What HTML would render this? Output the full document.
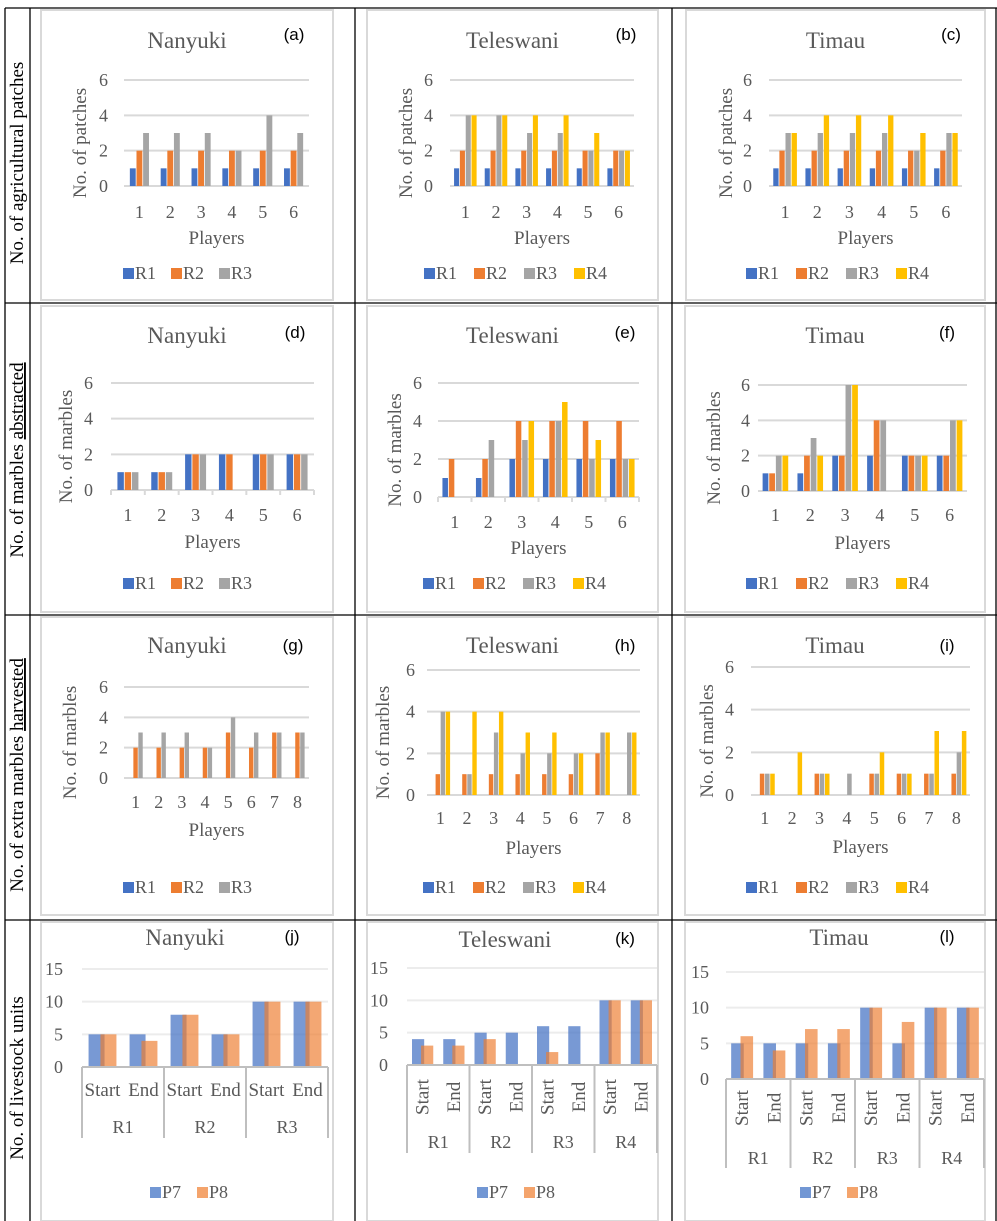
<!DOCTYPE html>
<html><head><meta charset="utf-8"><style>
html,body{margin:0;padding:0;background:#fff;}
svg{display:block;font-family:"Liberation Serif",serif;}
</style></head><body>
<svg id="fig" width="997" height="1221" viewBox="0 0 997 1221" xmlns="http://www.w3.org/2000/svg"></svg>
<script>
// ---------- data ----------
const players6 = [1,2,3,4,5,6];
const players8 = [1,2,3,4,5,6,7,8];
const ticks6 = [0,2,4,6];
const ticks15 = [0,5,10,15];
const seriesNames4 = ["R1","R2","R3","R4"];
// (a) Nanyuki patches
const aR1 = [1,1,1,1,1,1];
const aR2 = [2,2,2,2,2,2];
const aR3 = [3,3,3,2,4,3];
// (b) Teleswani patches
const bR1 = [1,1,1,1,1,1];
const bR2 = [2,2,2,2,2,2];
const bR3 = [4,4,3,3,2,2];
const bR4 = [4,4,4,4,3,2];
// (c) Timau patches
const cR1 = [1,1,1,1,1,1];
const cR2 = [2,2,2,2,2,2];
const cR3 = [3,3,3,3,2,3];
const cR4 = [3,4,4,4,3,3];
// (d) Nanyuki marbles abstracted
const dR1 = [1,1,2,2,2,2];
const dR2 = [1,1,2,2,2,2];
const dR3 = [1,1,2,0,2,2];
// (e) Teleswani marbles abstracted
const eR1 = [1,1,2,2,2,2];
const eR2 = [2,2,4,4,4,4];
const eR3 = [0,3,3,4,2,2];
const eR4 = [0,0,4,5,3,2];
// (f) Timau marbles abstracted
const fR1 = [1,1,2,2,2,2];
const fR2 = [1,2,2,4,2,2];
const fR3 = [2,3,6,4,2,4];
const fR4 = [2,2,6,0,2,4];
// (g) Nanyuki extra marbles
const gR1 = [0,0,0,0,0,0,0,0];
const gR2 = [2,2,2,2,3,2,3,3];
const gR3 = [3,3,3,2,4,3,3,3];
// (h) Teleswani extra marbles
const hR1 = [0,0,0,0,0,0,0,0];
const hR2 = [1,1,1,1,1,1,2,0];
const hR3 = [4,1,3,2,2,2,3,3];
const hR4 = [4,4,4,3,3,2,3,3];
// (i) Timau extra marbles
const iR1 = [0,0,0,0,0,0,0,0];
const iR2 = [1,0,1,0,1,1,1,1];
const iR3 = [1,0,1,1,1,1,1,2];
const iR4 = [1,2,1,0,2,1,3,3];
// (j) Nanyuki livestock
const jGroups = ["R1","R2","R3"];
const jP7 = [5,5,8,5,10,10];
const jP8 = [5,4,8,5,10,10];
// (k) Teleswani livestock
const kGroups = ["R1","R2","R3","R4"];
const kP7 = [4,4,5,5,6,6,10,10];
const kP8 = [3,3,4,0,2,0,10,10];
// (l) Timau livestock
const lGroups = ["R1","R2","R3","R4"];
const lP7 = [5,5,5,5,10,5,10,10];
const lP8 = [6,4,7,7,10,8,10,10];
const stageNames = ["Start","End"];

const COLORS = ["#4472c4","#ed7d31","#a5a5a5","#ffc000"];
const TXT = "#595959";
const NS = "http://www.w3.org/2000/svg";
const svg = document.getElementById("fig");

function mk(tag, attrs, parent, text){
  const e = document.createElementNS(NS, tag);
  for (const k in attrs) e.setAttribute(k, attrs[k]);
  if (text !== undefined) e.textContent = text;
  (parent||svg).appendChild(e);
  return e;
}

// ---------- table grid ----------
const grid = mk("g", {});


[[5,8,5,1221],[30,8,30,1221],[355,8,355,1221],[672,8,672,1221],[996,8,996,1221],
 [5,8,997,8],[5,303,997,303],[5,615,997,615],[5,920,997,920]].forEach(l=>{
  mk("line",{x1:l[0],y1:l[1],x2:l[2],y2:l[3],stroke:"#000","stroke-width":1.3},grid);
});

// ---------- row labels ----------
function rowLabel(name, cy, plain, under){
  const t = mk("text",{x:0,y:0,transform:`translate(23,${cy}) rotate(-90)`,"text-anchor":"middle","font-size":19,fill:"#000"});
  
  
  mk("tspan",{},t,plain);
  if (under){ mk("tspan",{"text-decoration":"underline"},t,under); }
}
rowLabel("row-label-patches",163,"No. of agricultural patches");
rowLabel("row-label-abstracted",460,"No. of marbles ","abstracted");
rowLabel("row-label-harvested",775,"No. of extra marbles ","harvested");
rowLabel("row-label-livestock",1078,"No. of livestock units");

// ---------- bar panel (rows 1-3) ----------
function barPanel(p, cats, ticks, series){
  const g = mk("g",{});
  
  
  const fr = mk("rect",{x:p.fx0,y:p.fy0,width:p.fx1-p.fx0,height:p.fy1-p.fy0,fill:"#fff",stroke:"#d9d9d9","stroke-width":2},g);
  
  
  const max = ticks[ticks.length-1];
  const yS = v => p.y0 - v/max*(p.y0-p.yTop);
  const n = cats.length, gw = (p.x1-p.x0)/n;
  const xC = i => p.x0 + gw*(i+0.5);
  ticks.forEach(t=>{
    const gl = mk("line",{x1:p.x0,x2:p.x1,y1:yS(t),y2:yS(t),stroke:"#d9d9d9","stroke-width":2},g);
    
    
    const tl = mk("text",{x:p.tickR,y:yS(t)+6,"text-anchor":"end","font-size":18,fill:TXT},g,String(t));
    
    
  });
  if (p.tickMarks){
    for (let i=0;i<=n;i++){
      const tm = mk("line",{x1:p.x0+gw*i,x2:p.x0+gw*i,y1:p.y0,y2:p.y0+5,stroke:"#d9d9d9","stroke-width":2},g);
      
      
    }
  }
  const ns = series.length;
  const bw = gw*(ns===3?0.19:0.165), gap = gw*0.025;
  const span = ns*bw+(ns-1)*gap;
  series.forEach((s,si)=>{
    s.forEach((v,i)=>{
      if (v<=0) return;
      const bx = xC(i)-span/2+si*(bw+gap);
      const r = mk("rect",{x:bx,y:yS(v),width:bw,height:yS(0)-yS(v),fill:COLORS[si]},g);
      
      
    });
  });
  cats.forEach((c,i)=>{
    const cl = mk("text",{x:xC(i),y:p.catY+6,"text-anchor":"middle","font-size":18,fill:TXT},g,String(c));
    
    
  });
  const title = mk("text",{x:(p.fx0+p.fx1)/2,y:p.titleY,"text-anchor":"middle","font-size":23,fill:TXT},g,p.title);
  
  
  const tag = mk("text",{x:p.tagX,y:p.tagY,"text-anchor":"middle","font-size":17,fill:"#000","font-family":"Liberation Sans, sans-serif"},g,p.tag);
  
  
  const yt = mk("text",{x:0,y:0,transform:`translate(${p.ytX+6},${(p.yTop+p.y0)/2+10}) rotate(-90)`,"text-anchor":"middle","font-size":19,fill:TXT},g,p.ytitle);
  
  
  const xt = mk("text",{x:(p.x0+p.x1)/2,y:p.plY+6,"text-anchor":"middle","font-size":19,fill:TXT},g,"Players");
  
  
  const sp = ns===3?48:50;
  series.forEach((s,si)=>{
    const lg = mk("g",{},g);
    
    
    mk("rect",{x:p.legX+si*sp,y:p.legY-5,width:11,height:11,fill:COLORS[si]},lg);
    mk("text",{x:p.legX+si*sp+12,y:p.legY+6,"font-size":18,fill:TXT},lg,seriesNames4[si]);
  });
}

barPanel({name:"chart-a-nanyuki-patches",fx0:41,fx1:333,fy0:10,fy1:300,x0:124,x1:309,yTop:80,y0:186,tickR:108,catY:212,plY:238,legY:273,legX:123,title:"Nanyuki",titleY:48,tag:"(a)",tagX:294,tagY:40,ytitle:"No. of patches",ytX:80},players6,ticks6,[aR1,aR2,aR3]);
barPanel({name:"chart-b-teleswani-patches",fx0:367,fx1:658,fy0:10,fy1:300,x0:450,x1:634,yTop:80,y0:186,tickR:433,catY:212,plY:238,legY:273,legX:424,title:"Teleswani",titleY:48,tag:"(b)",tagX:626,tagY:40,ytitle:"No. of patches",ytX:406},players6,ticks6,[bR1,bR2,bR3,bR4]);
barPanel({name:"chart-c-timau-patches",fx0:686,fx1:985,fy0:10,fy1:300,x0:769,x1:962,yTop:80,y0:186,tickR:752,catY:212,plY:238,legY:273,legX:746,title:"Timau",titleY:48,tag:"(c)",tagX:951,tagY:40,ytitle:"No. of patches",ytX:726},players6,ticks6,[cR1,cR2,cR3,cR4]);

barPanel({name:"chart-d-nanyuki-abstracted",fx0:41,fx1:333,fy0:306,fy1:612,x0:111,x1:314,yTop:383,y0:490,tickR:93,catY:515,plY:542,legY:583,legX:123,title:"Nanyuki",titleY:343,tag:"(d)",tagX:295,tagY:338,ytitle:"No. of marbles",ytX:66,tickMarks:true},players6,ticks6,[dR1,dR2,dR3]);
barPanel({name:"chart-e-teleswani-abstracted",fx0:367,fx1:658,fy0:306,fy1:612,x0:438,x1:639,yTop:383,y0:497,tickR:422,catY:522,plY:548,legY:583,legX:423,title:"Teleswani",titleY:343,tag:"(e)",tagX:625,tagY:338,ytitle:"No. of marbles",ytX:395,tickMarks:true},players6,ticks6,[eR1,eR2,eR3,eR4]);
barPanel({name:"chart-f-timau-abstracted",fx0:685,fx1:985,fy0:306,fy1:612,x0:758,x1:967,yTop:385,y0:491,tickR:750,catY:515,plY:543,legY:583,legX:746,title:"Timau",titleY:343,tag:"(f)",tagX:947,tagY:338,ytitle:"No. of marbles",ytX:714},players6,ticks6,[fR1,fR2,fR3,fR4]);

barPanel({name:"chart-g-nanyuki-harvested",fx0:41,fx1:333,fy0:617,fy1:915,x0:124,x1:309,yTop:687,y0:778,tickR:108,catY:802,plY:830,legY:887,legX:123,title:"Nanyuki",titleY:653,tag:"(g)",tagX:293,tagY:651,ytitle:"No. of marbles",ytX:70},players8,ticks6,[gR1,gR2,gR3]);
barPanel({name:"chart-h-teleswani-harvested",fx0:367,fx1:658,fy0:617,fy1:915,x0:427,x1:640,yTop:670,y0:795,tickR:415,catY:818,plY:848,legY:887,legX:423,title:"Teleswani",titleY:653,tag:"(h)",tagX:625,tagY:651,ytitle:"No. of marbles",ytX:383},players8,ticks6,[hR1,hR2,hR3,hR4]);
barPanel({name:"chart-i-timau-harvested",fx0:685,fx1:985,fy0:617,fy1:915,x0:751,x1:970,yTop:667,y0:795,tickR:734,catY:818,plY:847,legY:887,legX:746,title:"Timau",titleY:653,tag:"(i)",tagX:947,tagY:651,ytitle:"No. of marbles",ytX:707},players8,ticks6,[iR1,iR2,iR3,iR4]);

// ---------- livestock panels (row 4) ----------
function stockPanel(p, groups, p7, p8){
  const g = mk("g",{});
  
  
  const fr = mk("rect",{x:p.fx0,y:p.fy0,width:p.fx1-p.fx0,height:p.fy1-p.fy0,fill:"#fff",stroke:"#d9d9d9","stroke-width":2},g);
  
  
  const max = ticks15[ticks15.length-1];
  const yS = v => p.y0 - v/max*(p.y0-p.yTop);
  const n = groups.length*stageNames.length, gw = (p.x1-p.x0)/n;
  const xC = i => p.x0 + gw*(i+0.5);
  ticks15.forEach(t=>{
    if (t>0){
      const gl = mk("line",{x1:p.x0,x2:p.x1,y1:yS(t),y2:yS(t),stroke:"#ececec","stroke-width":2},g);
      
      
    }
    const tl = mk("text",{x:p.tickR,y:yS(t)+6,"text-anchor":"end","font-size":18,fill:TXT},g,String(t));
    
    
  });
  const bw = gw*0.39, ov = gw*0.1;
  p7.forEach((v,i)=>{
    const r = mk("rect",{x:xC(i)-bw+ov/2,y:yS(v),width:bw,height:yS(0)-yS(v),fill:"#4472c4","fill-opacity":0.72},g);
    
    
  });
  p8.forEach((v,i)=>{
    if (v<=0) return;
    const r = mk("rect",{x:xC(i)-ov/2,y:yS(v),width:bw,height:yS(0)-yS(v),fill:"#ed7d31","fill-opacity":0.68},g);
    
    
  });
  const ax = mk("line",{x1:p.x0,x2:p.x1,y1:p.y0,y2:p.y0,stroke:"#bfbfbf","stroke-width":2},g);
  
  
  for (let k=0;k<=groups.length;k++){
    const xx = p.x0 + gw*2*k;
    const dv = mk("line",{x1:xx,x2:xx,y1:p.y0,y2:p.divB,stroke:"#bfbfbf","stroke-width":2},g);
    
    
  }
  for (let i=0;i<n;i++){
    const lab = stageNames[i%2];
    let t;
    if (p.rotate){
      t = mk("text",{x:0,y:0,transform:`translate(${xC(i)+6},${p.stageY}) rotate(-90)`,"text-anchor":"middle","font-size":19,fill:TXT},g,lab);
    } else {
      t = mk("text",{x:xC(i),y:p.stageY+6,"text-anchor":"middle","font-size":19,fill:TXT},g,lab);
    }
    
    
  }
  groups.forEach((gr,k)=>{
    const t = mk("text",{x:p.x0+gw*(2*k+1),y:p.groupY+6,"text-anchor":"middle","font-size":18,fill:TXT},g,gr);
    
    
  });
  const title = mk("text",{x:p.titleX,y:p.titleY,"text-anchor":"middle","font-size":23,fill:TXT},g,p.title);
  
  
  const tag = mk("text",{x:p.tagX,y:p.titleY-3,"text-anchor":"middle","font-size":17,fill:"#000","font-family":"Liberation Sans, sans-serif"},g,p.tag);
  
  
  ["P7","P8"].forEach((nm,si)=>{
    const lg = mk("g",{},g);
    
    
    mk("rect",{x:p.legX+si*47,y:p.legY-5,width:11,height:11,fill:si?"#f4a46c":"#7297d4"},lg);
    mk("text",{x:p.legX+si*47+12,y:p.legY+6,"font-size":18,fill:TXT},lg,nm);
  });
}
stockPanel({name:"chart-j-nanyuki-livestock",fx0:41,fx1:333,fy0:922,fy1:1221,x0:82,x1:328,yTop:969,y0:1067,tickR:63,divB:1138,stageY:1090,groupY:1127,rotate:false,title:"Nanyuki",titleX:185,titleY:945,tag:"(j)",tagX:292,legX:150,legY:1192},jGroups,jP7,jP8);
stockPanel({name:"chart-k-teleswani-livestock",fx0:367,fx1:658,fy0:922,fy1:1221,x0:407,x1:657,yTop:968,y0:1065,tickR:388,divB:1153,stageY:1097,groupY:1142,rotate:true,title:"Teleswani",titleX:505,titleY:947,tag:"(k)",tagX:625,legX:477,legY:1192},kGroups,kP7,kP8);
stockPanel({name:"chart-l-timau-livestock",fx0:685,fx1:985,fy0:922,fy1:1221,x0:726,x1:984,yTop:972,y0:1079,tickR:709,divB:1168,stageY:1108,groupY:1158,rotate:true,title:"Timau",titleX:839,titleY:945,tag:"(l)",tagX:947,legX:800,legY:1192},lGroups,lP7,lP8);
</script>
</body></html>
